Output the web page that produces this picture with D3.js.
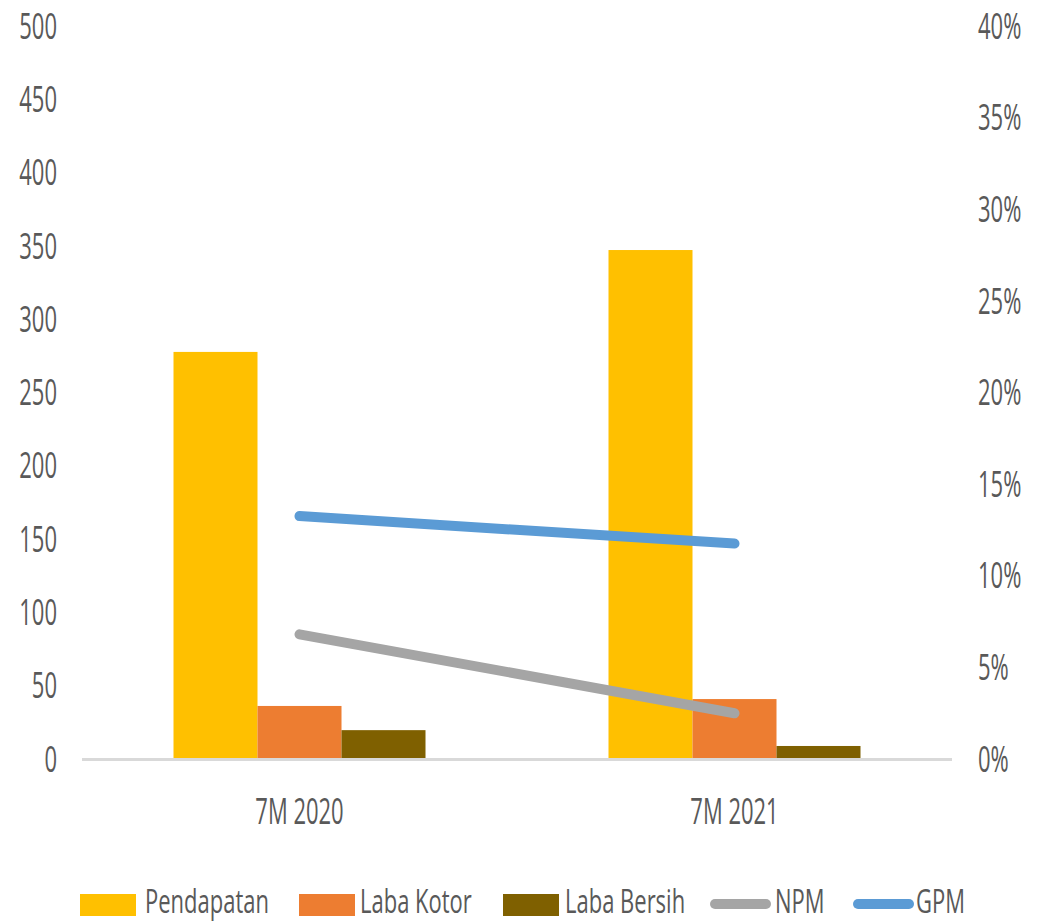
<!DOCTYPE html>
<html>
<head>
<meta charset="utf-8">
<script src="https://cdn.jsdelivr.net/npm/d3@7"></script>
<style>
  html, body { margin: 0; padding: 0; background: #fff; }
  svg { display: block; }
  text { font-family: "Open Sans", "Liberation Sans", sans-serif; fill: #595959; }
</style>
</head>
<body>
<svg id="chart" width="1045" height="924"></svg>
<script>
const categories = ["7M 2020", "7M 2021"];
const barSeries = ["Pendapatan", "Laba Kotor", "Laba Bersih"];
const pendapatan = [277, 346.5];
const labaKotor = [35.5, 40.2];
const labaBersih = [19, 8.2];
const npm = [0.0675, 0.0244];
const gpm = [0.132, 0.117];
const leftTicks = [0, 50, 100, 150, 200, 250, 300, 350, 400, 450, 500];
const rightTicks = [0, 0.05, 0.10, 0.15, 0.20, 0.25, 0.30, 0.35, 0.40];

const barValues = [pendapatan, labaKotor, labaBersih];
const colors = {
  "Pendapatan": "#FFC000",
  "Laba Kotor": "#ED7D31",
  "Laba Bersih": "#7F6000",
  "NPM": "#A5A5A5",
  "GPM": "#5B9BD5"
};

const SY = 1.68;       // vertical stretch of text
const FS = 22;         // font size
const CAPH = FS * 0.714 * SY;
const LSY = 1.5;       // legend stretch

const svg = d3.select("#chart");
const x0 = 82, x1 = 952, yTop = 25, yBase = 758;

const x = d3.scaleBand().domain(categories).range([x0, x1]).paddingInner(0).paddingOuter(0);
const xs = d3.scaleBand().domain(barSeries).range([0, 252]);
const yL = d3.scaleLinear().domain([0, 500]).range([yBase, yTop]);
const yR = d3.scaleLinear().domain([0, 0.40]).range([yBase, yTop]);

// bars
const groupOffset = (x.bandwidth() - 252) / 2;
barSeries.forEach((s, si) => {
  svg.append("g").selectAll("rect")
    .data(categories)
    .join("rect")
    .attr("x", (c) => x(c) + groupOffset + xs(s))
    .attr("width", xs.bandwidth())
    .attr("y", (c, i) => yL(barValues[si][i]))
    .attr("height", (c, i) => yBase - yL(barValues[si][i]))
    .attr("fill", colors[s]);
});

// x axis line
svg.append("line")
  .attr("x1", x0).attr("x2", x1)
  .attr("y1", yBase + 1.5).attr("y2", yBase + 1.5)
  .attr("stroke", "#D9D9D9").attr("stroke-width", 3);

// left axis
const gL = svg.append("g").attr("transform", "translate(57,0)")
  .call(d3.axisLeft(yL).tickValues(leftTicks).tickSize(0).tickPadding(0).tickFormat(d3.format("d")));
gL.select(".domain").remove();
gL.selectAll("text")
  .attr("x", 0).attr("dy", 0).attr("y", (CAPH / 2) / SY)
  .attr("transform", `scale(1,${SY})`)
  .attr("text-anchor", "end")
  .style("font-size", FS + "px").style("font-family", null).attr("fill", "#595959");

// right axis
const gR = svg.append("g").attr("transform", "translate(978,0)")
  .call(d3.axisRight(yR).tickValues(rightTicks).tickSize(0).tickPadding(0).tickFormat(d3.format(".0%")));
gR.select(".domain").remove();
gR.selectAll("text")
  .attr("x", 0).attr("dy", 0).attr("y", (CAPH / 2) / SY)
  .attr("transform", `scale(1,${SY})`)
  .attr("text-anchor", "start")
  .style("font-size", FS + "px").style("font-family", null).attr("fill", "#595959");

// bottom axis labels
const gB = svg.append("g").attr("transform", `translate(0,${811})`)
  .call(d3.axisBottom(x).tickSize(0).tickPadding(0));
gB.select(".domain").remove();
gB.selectAll("text")
  .attr("dy", 0).attr("y", (CAPH / 2) / SY)
  .attr("transform", `scale(1,${SY})`)
  .style("font-size", FS + "px").style("font-family", null).attr("fill", "#595959");

// lines
const line = d3.line().x((d, i) => x(categories[i]) + x.bandwidth() / 2).y((d) => yR(d));
[["NPM", npm], ["GPM", gpm]].forEach(([name, vals]) => {
  svg.append("path")
    .datum(vals)
    .attr("d", line)
    .attr("fill", "none")
    .attr("stroke", colors[name])
    .attr("stroke-width", 10)
    .attr("stroke-linecap", "round");
});

// legend
const legendItems = [
  { name: "Pendapatan", type: "rect", sx: 80, tx: 145 },
  { name: "Laba Kotor", type: "rect", sx: 299, tx: 360 },
  { name: "Laba Bersih", type: "rect", sx: 503, tx: 565 },
  { name: "NPM", type: "line", sx: 710, tx: 775 },
  { name: "GPM", type: "line", sx: 853, tx: 916 }
];
const ly = 905;
const lg = svg.append("g");
legendItems.forEach((it) => {
  if (it.type === "rect") {
    lg.append("rect").attr("x", it.sx).attr("y", ly - 11).attr("width", 56).attr("height", 22)
      .attr("fill", colors[it.name]);
  } else {
    lg.append("line").attr("x1", it.sx + 5).attr("x2", it.sx + 56).attr("y1", ly - 1).attr("y2", ly - 1)
      .attr("stroke", colors[it.name]).attr("stroke-width", 10).attr("stroke-linecap", "round");
  }
  lg.append("g").attr("transform", `translate(${it.tx},913) scale(1,${LSY})`)
    .append("text").attr("x", 0).attr("y", 0)
    .style("font-size", FS + "px")
    .text(it.name);
});
</script>
</body>
</html>
